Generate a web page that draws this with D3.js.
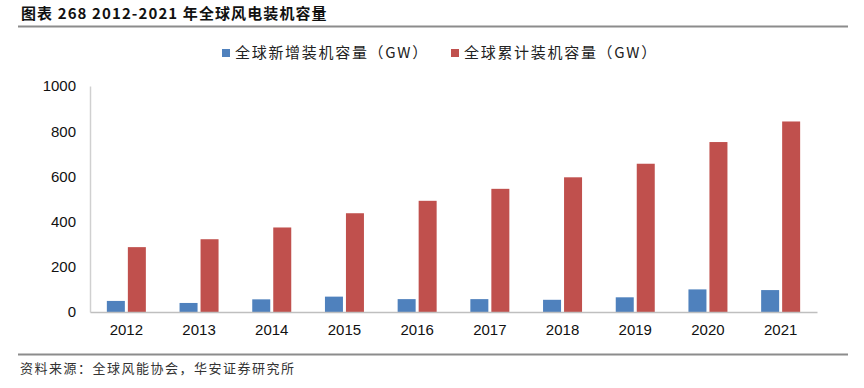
<!DOCTYPE html>
<html>
<head>
<meta charset="utf-8">
<script src="https://cdn.jsdelivr.net/npm/d3@7"></script>
<style>
body { margin: 0; background: #fff; }
text { font-family: "Liberation Sans", Arial, sans-serif; }
.cjk { font-family: "Noto Sans CJK SC", sans-serif; }
</style>
</head>
<body>
<div id="chart-area"></div>
<script>
var years = ["2012", "2013", "2014", "2015", "2016", "2017", "2018", "2019", "2020", "2021"];
var newCap = [49, 40, 56, 68, 57, 57, 54, 65, 100, 97];
var totalCap = [287, 322, 374, 437, 492, 545, 596, 656, 752, 843];
var yTicks = [0, 200, 400, 600, 800, 1000];
var seriesNames = ["全球新增装机容量（GW）", "全球累计装机容量（GW）"];
var colors = ["#4f81bd", "#c0504d"];

var W = 864, H = 388;
var margin = {top: 86, right: 47, bottom: 76, left: 90};
var width = W - margin.left - margin.right;
var height = H - margin.top - margin.bottom;

var svg = d3.select("#chart-area").append("svg")
	.attr("width", W)
	.attr("height", H);

// title
svg.append("text")
	.attr("class", "cjk")
	.attr("x", 21)
	.attr("y", 19)
	.attr("font-size", "15px")
	.attr("font-weight", "bold")
	.attr("letter-spacing", "1.1px")
	.attr("fill", "#111")
	.text("图表 268 2012-2021 年全球风电装机容量");

svg.append("line")
	.attr("x1", 18).attr("x2", 848)
	.attr("y1", 26.5).attr("y2", 26.5)
	.attr("stroke", "#8c8c8c")
	.attr("stroke-width", 2);

// legend
var legendX = [222, 451];
seriesNames.forEach((name, i) => {
	svg.append("rect")
		.attr("x", legendX[i])
		.attr("y", 49)
		.attr("width", 8)
		.attr("height", 8)
		.attr("fill", colors[i]);
	svg.append("text")
		.attr("class", "cjk")
		.attr("x", legendX[i] + 13)
		.attr("y", 58)
		.attr("font-size", "15px")
		.attr("letter-spacing", "1.7px")
		.attr("fill", "#222")
		.text(name);
});

var g = svg.append("g")
	.attr("transform", "translate(" + margin.left + ", " + margin.top + ")");

var x = d3.scaleBand()
	.domain(years)
	.range([0, width]);

var y = d3.scaleLinear()
	.domain([0, 1000])
	.range([height, 0]);

var barW = 18, gap = 3;
var offset = (x.bandwidth() - (2 * barW + gap)) / 2;

[newCap, totalCap].forEach((vals, i) => {
	g.selectAll(".bar" + i)
		.data(vals)
		.enter().append("rect")
		.attr("class", "bar" + i)
		.attr("x", (d, j) => x(years[j]) + offset + i * (barW + gap))
		.attr("y", (d) => y(d))
		.attr("width", barW)
		.attr("height", (d) => height - y(d))
		.attr("fill", colors[i]);
});

// left axis
var leftAxis = d3.axisLeft(y)
	.tickValues(yTicks)
	.tickFormat(d3.format("d"))
	.tickSize(0)
	.tickPadding(14);
var la = g.append("g").call(leftAxis);
la.select(".domain").attr("stroke", "#d0d0d0").attr("stroke-width", 1.5);
la.selectAll("text")
	.attr("font-size", "15px")
	.attr("fill", "#111")
	.attr("font-family", "'Liberation Sans', Arial, sans-serif");

// bottom axis
var bottomAxis = d3.axisBottom(x).tickSize(0).tickPadding(12);
var ba = g.append("g")
	.attr("transform", "translate(0, " + height + ")")
	.call(bottomAxis);
ba.select(".domain").attr("stroke", "#bfbfbf").attr("stroke-width", 1.5);
ba.selectAll("text")
	.attr("font-size", "15px")
	.attr("fill", "#111")
	.attr("font-family", "'Liberation Sans', Arial, sans-serif");

// source
svg.append("line")
	.attr("x1", 18).attr("x2", 848)
	.attr("y1", 354.5).attr("y2", 354.5)
	.attr("stroke", "#8c8c8c")
	.attr("stroke-width", 2);

svg.append("text")
	.attr("class", "cjk")
	.attr("x", 20)
	.attr("y", 373)
	.attr("font-size", "13px")
	.attr("letter-spacing", "1.5px")
	.attr("fill", "#333")
	.text("资料来源：全球风能协会，华安证券研究所");
</script>
</body>
</html>
